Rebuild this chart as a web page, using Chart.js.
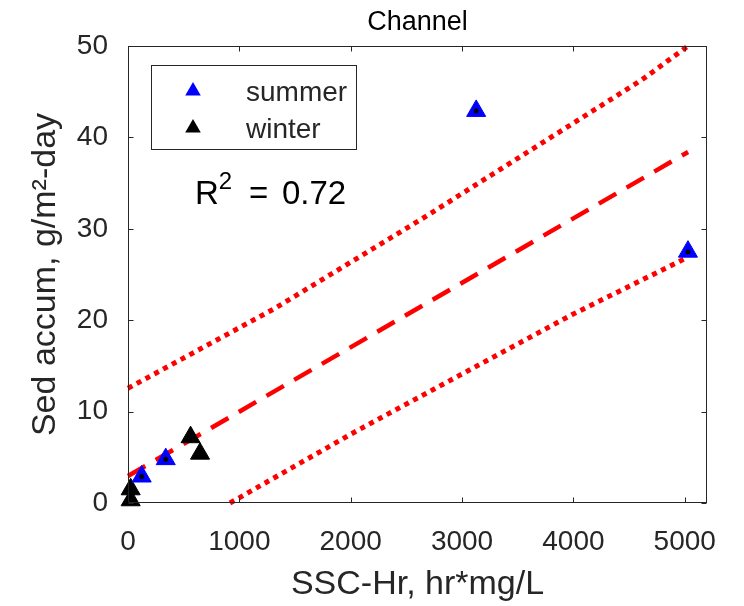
<!DOCTYPE html>
<html>
<head>
<meta charset="utf-8">
<script src="https://cdn.jsdelivr.net/npm/chart.js@4"></script>
<style>
  body { margin: 0; background: #fff; }
  #wrap { width: 744px; height: 606px; }
</style>
</head>
<body>
<div id="wrap"><canvas id="channelChart"></canvas></div>
<script>
// Channel - sed accumulation vs SSC-Hr
const summerX = [123, 339, 3127, 5029];
const summerY = [2.9, 4.8, 42.9, 27.5];
const winterX = [24, 24, 562, 647];
const winterY = [1.5, 0.3, 7.2, 5.4];

// fit line and prediction bounds
const fitX = [0, 5030];
const fitY = [2.95, 38.4];
const upperX = [0, 1320, 2668, 4615, 5030];
const upperY = [12.55, 21.3, 31.3, 46.3, 50];
const lowerX = [916, 2055, 3986, 5030];
const lowerY = [0, 7.9, 20.6, 26.9];

const xTicks = [0, 1000, 2000, 3000, 4000, 5000];
const yTicks = [0, 10, 20, 30, 40, 50];
const r2 = '0.72';

const FONT = "'Liberation Sans', Arial, sans-serif";
const AX = '#262626';
const pts = (xs, ys) => xs.map((x, i) => ({ x: x, y: ys[i] }));

function triangle(ctx, x, y, r, color) {
    let rad = 0;
    ctx.beginPath();
    for (let k = 0; k < 3; k++) {
        const px = x + Math.sin(rad) * r, py = y - Math.cos(rad) * r;
        if (k === 0) ctx.moveTo(px, py); else ctx.lineTo(px, py);
        rad += Math.PI * 2 / 3;
    }
    ctx.closePath();
    ctx.fillStyle = color;
    ctx.fill();
}

// box, inward ticks, legend and R^2 text
const frame = {
    id: 'frame',
    afterDraw(chart) {
        const ctx = chart.ctx, a = chart.chartArea;
        const sx = chart.scales.x, sy = chart.scales.y;
        ctx.save();
        ctx.strokeStyle = AX;
        ctx.lineWidth = 1;
        const L = Math.round(a.left) + 0.5, T = Math.round(a.top) + 0.5;
        const R = Math.round(a.right) - 0.5, B = Math.round(a.bottom) - 0.5;
        ctx.strokeRect(L, T, R - L, B - T);
        ctx.beginPath();
        xTicks.forEach(v => {
            const p = Math.round(sx.getPixelForValue(v)) + 0.5;
            ctx.moveTo(p, B); ctx.lineTo(p, B - 5);
            ctx.moveTo(p, T); ctx.lineTo(p, T + 5);
        });
        yTicks.forEach(v => {
            const p = Math.round(sy.getPixelForValue(v)) + 0.5;
            ctx.moveTo(L, p); ctx.lineTo(L + 5, p);
            ctx.moveTo(R, p); ctx.lineTo(R - 5, p);
        });
        ctx.stroke();

        // legend
        ctx.fillStyle = '#fff';
        ctx.fillRect(151, 65, 205, 84);
        ctx.strokeRect(151.5, 65.5, 205, 84);
        const ds = chart.data.datasets;
        ctx.font = '28px ' + FONT;
        ctx.textBaseline = 'alphabetic';
        [[ds[1], 91], [ds[2], 128]].forEach(([d, y]) => {
            triangle(ctx, 193, y, 9, d.backgroundColor);
            ctx.fillStyle = AX;
            ctx.fillText(d.label, 246, y + 10);
        });

        // R^2 label
        ctx.fillStyle = '#000';
        ctx.font = '33px ' + FONT;
        ctx.fillText('R', 195, 204);
        const rw = ctx.measureText('R').width;
        ctx.font = '24px ' + FONT;
        ctx.fillText('2', 195 + rw, 189);
        ctx.font = '33px ' + FONT;
        ctx.fillText('=', 249, 204);
        ctx.fillText(r2, 282, 204);
        ctx.restore();
    }
};

new Chart(document.getElementById('channelChart'), {
    type: 'scatter',
    data: {
        datasets: [{
            label: 'dots',
            data: pts(summerX.concat(winterX), summerY.concat(winterY)),
            pointRadius: 2.5,
            backgroundColor: '#000',
            borderWidth: 0,
            clip: false
        }, {
            label: 'summer',
            data: pts(summerX, summerY),
            pointStyle: 'triangle',
            pointRadius: 11,
            backgroundColor: '#0000ff',
            borderColor: '#0000ff',
            borderWidth: 1,
            clip: false
        }, {
            label: 'winter',
            data: pts(winterX, winterY),
            pointStyle: 'triangle',
            pointRadius: 11,
            backgroundColor: '#000000',
            borderColor: '#000000',
            borderWidth: 1,
            clip: false
        }, {
            label: 'fit',
            data: pts(fitX, fitY),
            showLine: true,
            pointRadius: 0,
            borderColor: '#ff0000',
            borderWidth: 4.5,
            borderDash: [20, 12],
            clip: false
        }, {
            label: 'upper',
            data: pts(upperX, upperY),
            showLine: true,
            pointRadius: 0,
            borderColor: '#ff0000',
            borderWidth: 5,
            borderDash: [5, 5],
            clip: false
        }, {
            label: 'lower',
            data: pts(lowerX, lowerY),
            showLine: true,
            pointRadius: 0,
            borderColor: '#ff0000',
            borderWidth: 5,
            borderDash: [5, 5],
            clip: false
        }]
    },
    options: {
        responsive: true,
        maintainAspectRatio: false,
        animation: false,
        layout: { padding: { left: 0, right: 37, top: 0, bottom: 0 } },
        plugins: { legend: { display: false }, tooltip: { enabled: false } },
        scales: {
            x: {
                type: 'linear', position: 'bottom', min: 0, max: 5200,
                afterBuildTicks: s => { s.ticks = xTicks.map(v => ({ value: v })); },
                grid: { display: false }, border: { display: false },
                ticks: { font: { family: FONT, size: 28 }, color: AX, padding: 14, maxRotation: 0,
                    callback: v => String(v) },
                title: { display: true, text: 'SSC-Hr, hr*mg/L', color: AX,
                    font: { family: FONT, size: 34 }, padding: { top: 0, bottom: 1 } },
                afterFit: s => { s.height = 103; }
            },
            top: {
                type: 'linear', position: 'top', min: 0, max: 5200,
                grid: { display: false }, border: { display: false },
                ticks: { display: false },
                title: { display: true, text: 'Channel', color: '#000',
                    font: { family: FONT, size: 27 }, padding: { top: 6, bottom: 0 } },
                afterFit: s => { s.height = 46; }
            },
            y: {
                type: 'linear', min: 0, max: 50,
                afterBuildTicks: s => { s.ticks = yTicks.map(v => ({ value: v })); },
                grid: { display: false }, border: { display: false },
                ticks: { font: { family: FONT, size: 28 }, color: AX, padding: 12,
                    callback: v => String(v) },
                title: { display: true, text: 'Sed accum, g/m²-day', color: AX,
                    font: { family: FONT, size: 34 }, padding: { top: 25, bottom: 0 } },
                afterFit: s => { s.width = 128; }
            }
        }
    },
    plugins: [frame]
});
</script>
</body>
</html>
